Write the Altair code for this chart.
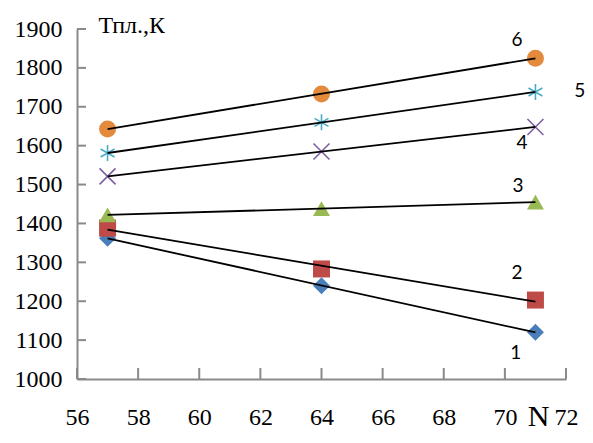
import altair as alt
import pandas as pd

# ---- data ----
N = [57, 64, 71]
T1 = [1362, 1240, 1120]
T2 = [1388, 1283, 1203]
T3 = [1422, 1438, 1455]
T4 = [1521, 1585, 1648]
T5 = [1581, 1660, 1738]
T6 = [1643, 1733, 1825]

series_names = ["1", "2", "3", "4", "5", "6"]
colors = ["#4A7EBB", "#BE4B48", "#98B954", "#7D60A0", "#4BACC6", "#E48A3C"]
X_PATH = "M-1,-1L1,1M-1,1L1,-1"
STAR_PATH = "M0,-1L0,1M-0.87,-0.5L0.87,0.5M-0.87,0.5L0.87,-0.5"
shapes = ["diamond", "square", "triangle-up", X_PATH, STAR_PATH, "circle"]

label_text = ["1", "2", "3", "4", "5", "6"]
label_x = [70.36, 70.40, 70.43, 70.56, 72.45, 70.40]
label_y = [1067, 1273, 1496, 1607, 1741, 1872]

x_ticks = list(range(56, 73, 2))
y_ticks = list(range(1000, 1901, 100))

W, H = 489, 350
AXIS_GRAY = "#8a8a8a"
SERIF = "Liberation Serif"

rows = []
for name, vals in zip(series_names, [T1, T2, T3, T4, T5, T6]):
    for n, t in zip(N, vals):
        rows.append({"s": name, "N": n, "T": t})
df = pd.DataFrame(rows)

xs = alt.Scale(domain=[56, 72], nice=False, zero=False)
ys = alt.Scale(domain=[1000, 1900], nice=False, zero=False)

x_axis = alt.Axis(
    values=x_ticks, format="d", grid=False, ticks=False, tickSize=0,
    domainColor=AXIS_GRAY, domainWidth=2,
    labelFont=SERIF, labelFontSize=24, labelColor="black",
    labelBaseline="alphabetic", labelPadding=45, labelFlush=False, labelOverlap=False,
    title="N", titleFont=SERIF, titleFontSize=30, titleFontWeight="normal",
    titleColor="black", titleAlign="center", titleBaseline="alphabetic",
    titleX=461, titleY=46,
)
y_axis = alt.Axis(
    values=y_ticks, format="d", grid=False, ticks=False, tickSize=0,
    domainColor=AXIS_GRAY, domainWidth=2,
    labelFont=SERIF, labelFontSize=24, labelColor="black",
    labelPadding=15, labelOverlap=False, labelFlush=False,
    title="Тпл.,К", titleFont=SERIF, titleFontSize=24, titleFontWeight="normal",
    titleColor="black", titleAngle=0, titleAlign="left", titleBaseline="alphabetic",
    titleX=21, titleY=3,
)

X = alt.X("N:Q", scale=xs, axis=x_axis)
Y = alt.Y("T:Q", scale=ys, axis=y_axis)

color_enc = alt.Color("s:N", scale=alt.Scale(domain=series_names, range=colors), legend=None)
shape_enc = alt.Shape("s:N", scale=alt.Scale(domain=series_names, range=shapes), legend=None)

filled = alt.Chart(df).transform_filter(
    alt.FieldOneOfPredicate(field="s", oneOf=["1", "2", "3", "6"])
).mark_point(filled=True, size=289, opacity=1).encode(
    x=X, y=Y, color=color_enc, shape=shape_enc,
)

stroked = alt.Chart(df).transform_filter(
    alt.FieldOneOfPredicate(field="s", oneOf=["4", "5"])
).mark_point(filled=False, size=256, strokeWidth=1.6, opacity=1).encode(
    x=X, y=Y, color=color_enc, shape=shape_enc,
)

trend = alt.Chart(df).transform_regression(
    "N", "T", groupby=["s"]
).mark_line(color="black", strokeWidth=1.8).encode(
    x=X, y=Y, detail="s:N",
)

yt = alt.Chart(pd.DataFrame({"T": y_ticks})).mark_rule(color=AXIS_GRAY, strokeWidth=2).encode(
    y=Y, x=alt.value(0), x2=alt.value(9),
)
xt = alt.Chart(pd.DataFrame({"N": x_ticks})).mark_rule(color=AXIS_GRAY, strokeWidth=2).encode(
    x=X, y=alt.value(H), y2=alt.value(H - 11),
)

labels = alt.Chart(pd.DataFrame({"lab": label_text, "N": label_x, "T": label_y})).mark_text(
    font="Lato", fontSize=19, color="black", align="center", baseline="middle"
).encode(
    x=X, y=Y, text="lab:N",
)

chart = alt.layer(yt, xt, filled, stroked, trend, labels).properties(
    width=W, height=H,
    autosize=alt.AutoSizeParams(type="none"),
    padding={"left": 69, "top": 21, "right": 19, "bottom": 52},
    background="white",
).configure_view(stroke=None).configure_axis(
    labelFont=SERIF, labelFontSize=24, labelColor="black",
    titleFont=SERIF, titleFontWeight="normal",
)

chart.save("out.html", embed_options={"renderer": "svg", "actions": False})
